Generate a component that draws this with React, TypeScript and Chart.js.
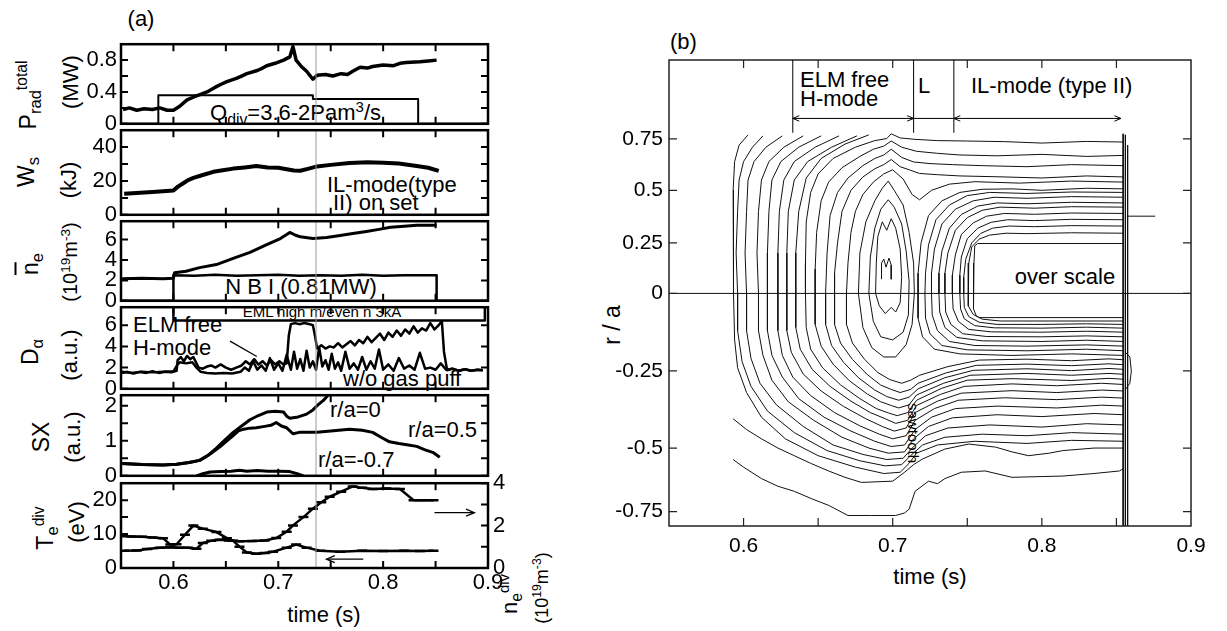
import { useEffect, useRef } from 'react';
import { Chart, registerables } from 'chart.js';

Chart.register(...registerables);

const FONT = "'Liberation Sans', Arial, Helvetica, sans-serif";
Chart.defaults.font.family = FONT;
Chart.defaults.color = '#000';

// ---------------- (a) shared time axis ----------------
const A_X_TICK_MARKS = [0.6, 0.65, 0.7, 0.75, 0.8, 0.85];
const X_LABEL_TICKS = [0.6, 0.7, 0.8, 0.9];
const X_LABEL_TEXT = ['0.6', '0.7', '0.8', '0.9'];
const MARKER_TIME = 0.736; // thin grey line through all traces

// Radiated power (MW) and divertor gas puff waveform
const PRAD_T = [0.552, 0.558, 0.565, 0.572, 0.58, 0.587, 0.594, 0.6, 0.606, 0.613, 0.62, 0.626, 0.632, 0.64, 0.646, 0.651, 0.66, 0.665, 0.67, 0.68, 0.685, 0.689, 0.697, 0.705, 0.711, 0.714, 0.717, 0.722, 0.727, 0.733, 0.737, 0.745, 0.752, 0.76, 0.766, 0.771, 0.778, 0.785, 0.79, 0.8, 0.81, 0.816, 0.822, 0.835, 0.843, 0.851];
const PRAD = [0.18, 0.2, 0.17, 0.19, 0.18, 0.2, 0.17, 0.17, 0.22, 0.3, 0.34, 0.37, 0.4, 0.46, 0.5, 0.53, 0.57, 0.6, 0.63, 0.67, 0.7, 0.73, 0.76, 0.8, 0.84, 0.97, 0.8, 0.72, 0.66, 0.56, 0.61, 0.62, 0.6, 0.63, 0.62, 0.66, 0.71, 0.7, 0.72, 0.74, 0.73, 0.76, 0.77, 0.78, 0.79, 0.8];
const QDIV_T = [0.55, 0.5856, 0.5856, 0.733, 0.733, 0.8334, 0.8334, 0.9];
const QDIV = [0, 0, 0.36, 0.36, 0.31, 0.31, 0, 0];
const PRAD_TICKS = [0, 0.2, 0.4, 0.6, 0.8];
const PRAD_TICK_TEXT = ['0', '', '0.4', '', '0.8'];

// Stored energy (kJ)
const WS_T = [0.553, 0.58, 0.6, 0.604, 0.609, 0.614, 0.619, 0.628, 0.638, 0.647, 0.657, 0.668, 0.679, 0.69, 0.7, 0.708, 0.715, 0.721, 0.729, 0.737, 0.75, 0.768, 0.785, 0.8, 0.815, 0.832, 0.843, 0.853];
const WS = [12.5, 13.5, 14.4, 16.5, 18.5, 20.5, 21.8, 23.5, 25.4, 26.3, 27.3, 28.0, 28.8, 28.0, 27.8, 26.9, 26.2, 26.0, 27.3, 28.6, 29.5, 30.6, 31.0, 30.8, 30.3, 28.8, 27.8, 26.0];
const WS_TICKS = [0, 10, 20, 30, 40];
const WS_TICK_TEXT = ['0', '', '20', '', '40'];

// Line averaged density (1e19 m^-3) and NBI waveform
const NE_T = [0.551, 0.57, 0.59, 0.6, 0.601, 0.612, 0.625, 0.641, 0.657, 0.673, 0.689, 0.702, 0.711, 0.716, 0.721, 0.733, 0.746, 0.759, 0.771, 0.784, 0.796, 0.807, 0.82, 0.832, 0.851];
const NE = [2.15, 2.2, 2.15, 2.2, 2.75, 2.9, 3.25, 3.55, 4.15, 4.75, 5.5, 6.1, 6.7, 6.45, 6.27, 6.1, 6.2, 6.4, 6.6, 6.8, 7.0, 7.2, 7.3, 7.4, 7.4];
const NBI_T = [0.55, 0.6, 0.6, 0.62, 0.64, 0.66, 0.68, 0.7, 0.72, 0.74, 0.76, 0.78, 0.8, 0.82, 0.84, 0.851, 0.851, 0.9];
const NBI = [0, 0, 2.5, 2.45, 2.55, 2.45, 2.5, 2.55, 2.45, 2.5, 2.45, 2.55, 2.45, 2.5, 2.5, 2.5, 0, 0];
const NE_TICKS = [0, 2, 4, 6];
const NE_TICK_TEXT = ['0', '2', '4', '6'];

// D-alpha (a.u.): with and without gas puff, EML coil window
const DA_PUFF_T = [0.551, 0.556, 0.562, 0.568, 0.574, 0.58, 0.586, 0.592, 0.598, 0.603, 0.604, 0.607, 0.61, 0.613, 0.616, 0.619, 0.622, 0.624, 0.628, 0.632, 0.636, 0.64, 0.645, 0.65, 0.655, 0.66, 0.665, 0.669, 0.673, 0.677, 0.681, 0.685, 0.689, 0.693, 0.697, 0.701, 0.705, 0.708, 0.71, 0.712, 0.716, 0.72, 0.725, 0.73, 0.733, 0.735, 0.737, 0.741, 0.745, 0.749, 0.753, 0.757, 0.761, 0.765, 0.769, 0.773, 0.777, 0.781, 0.785, 0.789, 0.793, 0.797, 0.801, 0.805, 0.809, 0.813, 0.817, 0.821, 0.825, 0.829, 0.833, 0.837, 0.841, 0.845, 0.849, 0.853, 0.856, 0.858, 0.861, 0.866, 0.872, 0.878, 0.884, 0.89, 0.895];
const DA_PUFF = [1.5, 1.6, 1.45, 1.6, 1.5, 1.65, 1.5, 1.6, 1.55, 1.7, 2.7, 3.0, 2.6, 3.1, 2.8, 3.0, 2.4, 2.0, 1.9, 2.1, 2.2, 2.0, 2.3, 2.0, 1.8, 2.0, 2.2, 2.6, 2.3, 2.8, 2.3, 2.6, 2.2, 2.7, 2.3, 2.6, 2.3, 2.4, 5.0, 6.1, 6.2, 6.1, 6.2, 6.1, 6.0, 5.0, 3.8, 4.1, 3.8, 4.0, 3.9, 4.3, 3.9, 4.2, 4.5, 4.1, 4.6, 4.3, 4.9, 4.4, 4.8, 5.2, 4.6, 5.3, 4.9, 5.5, 5.0, 5.6, 5.2, 5.9, 5.3, 5.7, 5.5, 6.2, 5.6, 6.0, 6.4, 3.5, 1.75, 1.9, 1.7, 1.85, 1.7, 1.8, 1.75];
const DA_NOPUFF_T = [0.551, 0.56, 0.57, 0.58, 0.59, 0.6, 0.604, 0.606, 0.612, 0.618, 0.622, 0.626, 0.632, 0.64, 0.648, 0.656, 0.664, 0.668, 0.672, 0.676, 0.68, 0.684, 0.688, 0.692, 0.696, 0.7, 0.704, 0.708, 0.712, 0.715, 0.718, 0.721, 0.724, 0.727, 0.73, 0.733, 0.736, 0.739, 0.742, 0.745, 0.748, 0.751, 0.754, 0.757, 0.76, 0.764, 0.768, 0.772, 0.776, 0.78, 0.784, 0.788, 0.792, 0.796, 0.8, 0.805, 0.81, 0.815, 0.82, 0.825, 0.83, 0.835, 0.84, 0.845, 0.85, 0.855, 0.86, 0.866, 0.872, 0.878, 0.884, 0.89, 0.895];
const DA_NOPUFF = [1.6, 1.5, 1.6, 1.55, 1.6, 1.65, 2.3, 2.5, 2.4, 2.5, 2.0, 1.6, 1.5, 1.45, 1.5, 1.45, 1.6, 2.0, 1.7, 2.6, 1.8, 2.2, 1.7, 2.9, 1.8, 2.4, 1.7, 3.2, 1.8, 3.5, 1.9, 2.8, 1.7, 3.6, 2.0, 2.6, 1.8, 3.9, 2.1, 2.7, 1.8, 3.3, 1.9, 2.5, 1.7, 3.5, 1.9, 2.4, 1.8, 3.0, 1.8, 2.6, 1.9, 3.7, 1.8, 2.3, 1.7, 2.9, 1.9, 2.2, 1.8, 3.4, 1.9, 2.0, 1.8, 2.4, 1.8, 1.9, 1.7, 1.85, 1.7, 1.8, 1.75];
const EML_T = [0.6, 0.6, 0.897, 0.897];
const EML = [8.5, 6.44, 6.44, 8.5];
const DA_TICKS = [0, 2, 4, 6];
const DA_TICK_TEXT = ['0', '2', '4', '6'];

// Soft X-ray chords (a.u.)
const SX0_T = [0.551, 0.57, 0.59, 0.603, 0.615, 0.625, 0.633, 0.641, 0.649, 0.657, 0.665, 0.673, 0.681, 0.689, 0.697, 0.705, 0.708, 0.711, 0.719, 0.727, 0.733, 0.737, 0.743, 0.749];
const SX0 = [0.35, 0.32, 0.31, 0.33, 0.38, 0.44, 0.58, 0.79, 1.02, 1.24, 1.42, 1.6, 1.72, 1.82, 1.84, 1.82, 1.7, 1.64, 1.68, 1.76, 1.88, 2.0, 2.15, 2.35];
const SX05_T = [0.551, 0.57, 0.59, 0.603, 0.615, 0.625, 0.635, 0.644, 0.651, 0.657, 0.662, 0.667, 0.673, 0.679, 0.687, 0.693, 0.698, 0.703, 0.708, 0.714, 0.72, 0.737, 0.75, 0.768, 0.78, 0.79, 0.798, 0.806, 0.815, 0.824, 0.832, 0.84, 0.848, 0.854];
const SX05 = [0.35, 0.32, 0.31, 0.33, 0.38, 0.44, 0.62, 0.82, 1.0, 1.15, 1.28, 1.33, 1.36, 1.37, 1.41, 1.44, 1.52, 1.42, 1.37, 1.2, 1.24, 1.24, 1.28, 1.33, 1.3, 1.24, 1.1, 0.97, 0.92, 0.88, 0.84, 0.74, 0.66, 0.53];
const SXM07_T = [0.622, 0.628, 0.635, 0.645, 0.655, 0.663, 0.67, 0.68, 0.69, 0.7, 0.711, 0.718, 0.724];
const SXM07 = [0.0, 0.06, 0.11, 0.12, 0.13, 0.16, 0.13, 0.15, 0.13, 0.13, 0.12, 0.06, 0.0];
const SX_TICKS = [0, 0.5, 1, 1.5, 2];
const SX_TICK_TEXT = ['0', '', '1', '', '2'];

// Divertor Te (eV, left) and divertor ne (1e19 m^-3, right)
const TE_T = [0.551, 0.56, 0.57, 0.58, 0.59, 0.597, 0.603, 0.611, 0.619, 0.628, 0.641, 0.651, 0.657, 0.663, 0.67, 0.679, 0.687, 0.695, 0.708, 0.717, 0.727, 0.74, 0.759, 0.78, 0.8, 0.82, 0.835, 0.848];
const TE = [9.4, 9.3, 9.2, 9.0, 8.8, 6.9, 7.0, 9.8, 12.5, 11.6, 10.6, 8.8, 8.0, 6.3, 4.6, 4.2, 4.4, 4.8, 6.0, 6.9, 6.0, 5.1, 4.8, 5.1, 5.0, 5.1, 5.0, 5.1];
const NEDIV_T = [0.553, 0.565, 0.575, 0.587, 0.597, 0.606, 0.614, 0.622, 0.628, 0.636, 0.644, 0.653, 0.663, 0.675, 0.687, 0.698, 0.708, 0.714, 0.724, 0.733, 0.741, 0.749, 0.76, 0.771, 0.78, 0.79, 0.803, 0.816, 0.829, 0.838, 0.848];
const NEDIV = [0.81, 0.82, 0.9, 0.96, 0.98, 0.96, 0.95, 0.91, 1.18, 1.28, 1.33, 1.3, 1.26, 1.27, 1.3, 1.41, 1.71, 2.01, 2.4, 2.8, 3.1, 3.36, 3.6, 3.85, 3.78, 3.73, 3.75, 3.73, 3.2, 3.2, 3.2];
const TE_TICKS = [0, 5, 10, 15, 20];
const TE_TICK_TEXT = ['0', '', '10', '', '20'];
const NEDIV_TICKS = [0, 1, 2, 3, 4];
const NEDIV_TICK_TEXT = ['0', '', '2', '', '4'];

// ---------------- (b) SX contour map ----------------
const B_X_TICK_MARKS = [0.6, 0.65, 0.7, 0.75, 0.8, 0.85];
const R_TICKS = [0.75, 0.5, 0.25, 0, -0.25, -0.5, -0.75];
const R_TICK_TEXT = ['0.75', '0.5', '0.25', '0', '-0.25', '-0.5', '-0.75'];
const R_CHORD = [0.755, 0.504, 0.247, 0, -0.379, -0.756, -1.067]; // chord-axis position of each r/a tick

// contour lines as [time (s), r/a]
const CONTOUR_L0 = [[0.603, 0.77], [0.597, 0.72], [0.594, 0.64], [0.593, 0.5], [0.593, 0.25], [0.5935, 0], [0.594, -0.15], [0.596, -0.24], [0.602, -0.32], [0.612, -0.4], [0.628, -0.47], [0.65, -0.53], [0.675, -0.575], [0.694, -0.6], [0.705, -0.595], [0.711, -0.56], [0.716, -0.52], [0.73, -0.49], [0.755, -0.478], [0.79, -0.485], [0.82, -0.475], [0.855, -0.478]];
const CONTOUR_L1 = [[0.613, 0.765], [0.606, 0.71], [0.6, 0.64], [0.597, 0.55], [0.596, 0.4], [0.595, 0.2], [0.596, 0], [0.596, -0.12], [0.599, -0.22], [0.605, -0.3], [0.616, -0.38], [0.634, -0.45], [0.656, -0.51], [0.678, -0.55], [0.695, -0.57], [0.706, -0.565], [0.712, -0.53], [0.72, -0.49], [0.735, -0.465], [0.76, -0.455], [0.79, -0.46], [0.82, -0.45], [0.855, -0.455]];
const CONTOUR_L2 = [[0.626, 0.765], [0.615, 0.71], [0.607, 0.64], [0.603, 0.55], [0.602, 0.4], [0.601, 0.2], [0.602, 0], [0.602, -0.12], [0.605, -0.21], [0.611, -0.29], [0.622, -0.36], [0.64, -0.43], [0.66, -0.49], [0.68, -0.525], [0.696, -0.545], [0.707, -0.54], [0.713, -0.5], [0.722, -0.46], [0.737, -0.435], [0.765, -0.425], [0.8, -0.432], [0.83, -0.421], [0.855, -0.425]];
const CONTOUR_L3 = [[0.64, 0.765], [0.627, 0.71], [0.617, 0.64], [0.612, 0.55], [0.61, 0.4], [0.609, 0.2], [0.61, 0], [0.61, -0.12], [0.613, -0.2], [0.619, -0.28], [0.63, -0.35], [0.647, -0.41], [0.666, -0.465], [0.684, -0.5], [0.697, -0.52], [0.708, -0.515], [0.714, -0.47], [0.724, -0.43], [0.74, -0.402], [0.77, -0.392], [0.8, -0.398], [0.835, -0.388], [0.855, -0.392]];
const CONTOUR_L4 = [[0.652, 0.765], [0.637, 0.71], [0.625, 0.64], [0.619, 0.55], [0.617, 0.4], [0.616, 0.2], [0.616, 0], [0.616, -0.12], [0.619, -0.2], [0.626, -0.27], [0.637, -0.34], [0.654, -0.4], [0.672, -0.445], [0.688, -0.478], [0.699, -0.495], [0.708, -0.49], [0.715, -0.44], [0.726, -0.4], [0.742, -0.372], [0.77, -0.364], [0.81, -0.37], [0.84, -0.361], [0.855, -0.364]];
const CONTOUR_L5 = [[0.664, 0.765], [0.648, 0.71], [0.634, 0.64], [0.627, 0.55], [0.624, 0.4], [0.623, 0.2], [0.623, 0], [0.623, -0.12], [0.626, -0.2], [0.633, -0.27], [0.645, -0.33], [0.661, -0.385], [0.678, -0.428], [0.691, -0.455], [0.7, -0.47], [0.709, -0.46], [0.715, -0.41], [0.728, -0.372], [0.744, -0.345], [0.775, -0.337], [0.81, -0.343], [0.84, -0.335], [0.855, -0.338]];
const CONTOUR_L6 = [[0.676, 0.765], [0.659, 0.71], [0.643, 0.64], [0.634, 0.55], [0.63, 0.4], [0.629, 0.2], [0.629, 0], [0.629, -0.12], [0.632, -0.19], [0.64, -0.26], [0.652, -0.315], [0.667, -0.365], [0.682, -0.405], [0.693, -0.43], [0.701, -0.445], [0.709, -0.435], [0.715, -0.385], [0.73, -0.348], [0.746, -0.322], [0.78, -0.314], [0.81, -0.32], [0.84, -0.312], [0.855, -0.315]];
const CONTOUR_L7 = [[0.684, 0.77], [0.668, 0.725], [0.652, 0.655], [0.642, 0.56], [0.637, 0.4], [0.635, 0.2], [0.635, 0], [0.635, -0.11], [0.638, -0.18], [0.646, -0.245], [0.658, -0.3], [0.672, -0.348], [0.685, -0.385], [0.695, -0.405], [0.702, -0.42], [0.71, -0.41], [0.716, -0.362], [0.732, -0.326], [0.748, -0.3], [0.78, -0.292], [0.81, -0.298], [0.84, -0.29], [0.855, -0.294]];
const CONTOUR_L8 = [[0.855, 0.735], [0.83, 0.738], [0.8, 0.73], [0.775, 0.737], [0.75, 0.74], [0.73, 0.742], [0.715, 0.748], [0.705, 0.755], [0.699, 0.775], [0.696, 0.752], [0.688, 0.742], [0.675, 0.71], [0.66, 0.655], [0.65, 0.58], [0.645, 0.49], [0.642, 0.35], [0.6415, 0.15], [0.6415, 0], [0.642, -0.11], [0.645, -0.18], [0.653, -0.24], [0.665, -0.295], [0.678, -0.34], [0.689, -0.372], [0.697, -0.386], [0.703, -0.395], [0.71, -0.385], [0.716, -0.345], [0.733, -0.306], [0.75, -0.28], [0.78, -0.275], [0.82, -0.281], [0.845, -0.274], [0.855, -0.277]];
const CONTOUR_L9 = [[0.855, 0.67], [0.83, 0.665], [0.8, 0.675], [0.77, 0.668], [0.745, 0.672], [0.73, 0.68], [0.716, 0.69], [0.706, 0.71], [0.699, 0.74], [0.694, 0.715], [0.687, 0.7], [0.678, 0.665], [0.666, 0.61], [0.657, 0.54], [0.652, 0.45], [0.649, 0.3], [0.648, 0.12], [0.648, 0], [0.648, -0.1], [0.652, -0.17], [0.66, -0.228], [0.671, -0.282], [0.683, -0.325], [0.692, -0.35], [0.699, -0.362], [0.704, -0.37], [0.711, -0.36], [0.716, -0.328], [0.734, -0.29], [0.752, -0.264], [0.79, -0.258], [0.82, -0.264], [0.845, -0.258], [0.855, -0.261]];
const CONTOUR_L10 = [[0.855, 0.62], [0.82, 0.625], [0.79, 0.615], [0.76, 0.62], [0.74, 0.625], [0.725, 0.63], [0.714, 0.638], [0.706, 0.66], [0.699, 0.7], [0.694, 0.672], [0.688, 0.655], [0.68, 0.62], [0.67, 0.56], [0.663, 0.49], [0.658, 0.38], [0.656, 0.2], [0.655, 0], [0.655, -0.1], [0.659, -0.168], [0.667, -0.222], [0.677, -0.272], [0.688, -0.312], [0.696, -0.333], [0.704, -0.345], [0.711, -0.335], [0.717, -0.308], [0.735, -0.272], [0.754, -0.248], [0.79, -0.243], [0.82, -0.249], [0.845, -0.242], [0.855, -0.245]];
const CONTOUR_L11 = [[0.855, 0.565], [0.83, 0.57], [0.8, 0.56], [0.77, 0.566], [0.745, 0.57], [0.73, 0.576], [0.718, 0.582], [0.711, 0.6], [0.705, 0.615], [0.699, 0.65], [0.694, 0.625], [0.688, 0.605], [0.68, 0.565], [0.672, 0.5], [0.666, 0.4], [0.663, 0.25], [0.661, 0.1], [0.661, 0], [0.661, -0.1], [0.665, -0.16], [0.673, -0.213], [0.683, -0.262], [0.692, -0.296], [0.699, -0.31], [0.705, -0.32], [0.712, -0.31], [0.717, -0.29], [0.736, -0.256], [0.756, -0.232], [0.79, -0.228], [0.82, -0.233], [0.845, -0.227], [0.855, -0.23]];
const CONTOUR_L12 = [[0.855, 0.54], [0.82, 0.545], [0.785, 0.535], [0.755, 0.542], [0.738, 0.53], [0.726, 0.5], [0.718, 0.455], [0.713, 0.48], [0.707, 0.555], [0.7, 0.6], [0.694, 0.58], [0.687, 0.54], [0.68, 0.48], [0.675, 0.4], [0.672, 0.3], [0.67, 0.15], [0.669, 0], [0.669, -0.1], [0.673, -0.16], [0.681, -0.212], [0.69, -0.255], [0.698, -0.278], [0.706, -0.29], [0.712, -0.28], [0.718, -0.264], [0.737, -0.236], [0.758, -0.215], [0.79, -0.212], [0.82, -0.217], [0.845, -0.211], [0.855, -0.214]];
const CONTOUR_B1 = [[0.593, -0.545], [0.6, -0.575], [0.612, -0.62], [0.623, -0.65], [0.634, -0.67], [0.646, -0.7], [0.657, -0.725], [0.67, -0.765], [0.685, -0.765], [0.702, -0.765], [0.708, -0.755], [0.711, -0.74], [0.715, -0.67], [0.724, -0.63], [0.73, -0.64], [0.735, -0.62], [0.746, -0.595], [0.762, -0.59], [0.78, -0.615], [0.8, -0.612], [0.814, -0.61], [0.835, -0.6], [0.852, -0.59], [0.855, -0.58]];
const CONTOUR_B2 = [[0.593, -0.405], [0.602, -0.44], [0.612, -0.47], [0.623, -0.5], [0.634, -0.53], [0.645, -0.56], [0.657, -0.59], [0.668, -0.615], [0.679, -0.635], [0.7, -0.63], [0.708, -0.595], [0.714, -0.565], [0.72, -0.543], [0.735, -0.504], [0.751, -0.487], [0.769, -0.497], [0.78, -0.515], [0.791, -0.53], [0.805, -0.52], [0.814, -0.51], [0.835, -0.5], [0.855, -0.5]];
const CONTOUR_O1 = [[0.677, 0], [0.678, 0.2], [0.682, 0.35], [0.688, 0.45], [0.693, 0.51], [0.697, 0.545], [0.701, 0.5], [0.707, 0.43], [0.711, 0.3], [0.714, 0.15], [0.7145, 0], [0.713, -0.1], [0.709, -0.165], [0.702, -0.205], [0.694, -0.205], [0.686, -0.175], [0.68, -0.11], [0.677, 0]];
const CONTOUR_O2 = [[0.684, 0], [0.685, 0.18], [0.688, 0.32], [0.692, 0.41], [0.697, 0.455], [0.701, 0.42], [0.706, 0.34], [0.709, 0.21], [0.711, 0.06], [0.7105, -0.07], [0.707, -0.125], [0.7, -0.15], [0.692, -0.14], [0.687, -0.09], [0.684, 0]];
const CONTOUR_O3 = [[0.6885, 0], [0.689, 0.15], [0.69, 0.28], [0.693, 0.35], [0.696, 0.31], [0.699, 0.365], [0.702, 0.32], [0.705, 0.22], [0.706, 0.08], [0.705, -0.03], [0.702, -0.06], [0.699, -0.045], [0.695, -0.065], [0.691, -0.04], [0.6885, 0]];
const CONTOUR_O4 = [[0.6925, 0.07], [0.6925, 0.15], [0.694, 0.17], [0.6955, 0.13], [0.6975, 0.175], [0.699, 0.14], [0.699, 0.07]];
const CONTOUR_IL1 = [[0.855, 0.507], [0.83, 0.51], [0.8, 0.5], [0.78, 0.507], [0.76, 0.505], [0.745, 0.49], [0.733, 0.45], [0.724, 0.38], [0.719, 0.25], [0.717, 0.1], [0.717, 0], [0.717, -0.08], [0.72, -0.14], [0.728, -0.18], [0.745, -0.195], [0.78, -0.2], [0.82, -0.195], [0.855, -0.2]];
const CONTOUR_IL2 = [[0.855, 0.49], [0.82, 0.492], [0.79, 0.485], [0.765, 0.49], [0.75, 0.475], [0.738, 0.43], [0.729, 0.36], [0.724, 0.24], [0.722, 0.1], [0.7216, 0], [0.722, -0.08], [0.725, -0.13], [0.733, -0.168], [0.75, -0.182], [0.79, -0.185], [0.83, -0.18], [0.855, -0.185]];
const CONTOUR_IL3 = [[0.855, 0.467], [0.82, 0.47], [0.79, 0.462], [0.768, 0.467], [0.754, 0.45], [0.742, 0.41], [0.733, 0.34], [0.728, 0.22], [0.726, 0.1], [0.726, 0], [0.7265, -0.07], [0.73, -0.12], [0.738, -0.155], [0.755, -0.168], [0.79, -0.17], [0.83, -0.166], [0.855, -0.17]];
const CONTOUR_IL4 = [[0.855, 0.44], [0.82, 0.443], [0.79, 0.436], [0.77, 0.44], [0.757, 0.425], [0.746, 0.385], [0.738, 0.32], [0.733, 0.21], [0.731, 0.1], [0.731, 0], [0.7315, -0.06], [0.735, -0.11], [0.743, -0.142], [0.76, -0.153], [0.8, -0.155], [0.83, -0.151], [0.855, -0.155]];
const CONTOUR_IL5 = [[0.855, 0.42], [0.82, 0.422], [0.795, 0.415], [0.772, 0.42], [0.76, 0.405], [0.75, 0.37], [0.742, 0.31], [0.737, 0.2], [0.735, 0.1], [0.735, 0], [0.7355, -0.06], [0.739, -0.1], [0.747, -0.13], [0.763, -0.139], [0.8, -0.14], [0.83, -0.137], [0.855, -0.14]];
const CONTOUR_IL6 = [[0.855, 0.39], [0.82, 0.392], [0.795, 0.386], [0.775, 0.39], [0.763, 0.377], [0.754, 0.345], [0.746, 0.29], [0.742, 0.19], [0.74, 0.09], [0.74, 0], [0.7405, -0.05], [0.744, -0.09], [0.751, -0.116], [0.766, -0.124], [0.8, -0.125], [0.83, -0.122], [0.855, -0.125]];
const CONTOUR_IL7 = [[0.855, 0.36], [0.82, 0.362], [0.795, 0.356], [0.777, 0.36], [0.766, 0.348], [0.757, 0.32], [0.75, 0.27], [0.746, 0.18], [0.745, 0.09], [0.745, 0], [0.7455, -0.05], [0.748, -0.082], [0.755, -0.104], [0.768, -0.111], [0.8, -0.112], [0.83, -0.109], [0.855, -0.112]];
const CONTOUR_IL8 = [[0.855, 0.33], [0.82, 0.332], [0.795, 0.327], [0.778, 0.33], [0.767, 0.32], [0.759, 0.295], [0.753, 0.25], [0.749, 0.17], [0.7476, 0.08], [0.7476, 0], [0.748, -0.045], [0.751, -0.075], [0.758, -0.093], [0.77, -0.1], [0.8, -0.1], [0.83, -0.098], [0.855, -0.1]];
const CONTOUR_IL9 = [[0.855, 0.296], [0.82, 0.298], [0.79, 0.294], [0.776, 0.296], [0.765, 0.287], [0.758, 0.268], [0.753, 0.23], [0.751, 0.15], [0.7505, 0.07], [0.7505, 0], [0.751, -0.04], [0.754, -0.068], [0.76, -0.083], [0.772, -0.089], [0.855, -0.089]];
const OVER_SCALE_EDGE = [[0.855, 0.247], [0.757, 0.247], [0.755, 0.235], [0.7545, 0.15], [0.754, 0.06], [0.754, 0], [0.7545, -0.05], [0.756, -0.072], [0.758, -0.078], [0.855, -0.078]];
const END_LINE_A = [[0.8545, 0.775], [0.8545, -0.9]];
const END_LINE_B = [[0.856, 0.77], [0.856, -0.9]];
const END_LINE_C = [[0.8575, 0.72], [0.8575, -0.9]];
const END_TAIL = [[0.857, 0.377], [0.876, 0.377]];
const END_LOOP = [[0.856, -0.19], [0.859, -0.205], [0.86, -0.25], [0.859, -0.29], [0.856, -0.31]];
const ZERO_LINE = [[0.55, 0], [0.9, 0]];

const CONTOURS = [
  CONTOUR_L0, CONTOUR_L1, CONTOUR_L2, CONTOUR_L3, CONTOUR_L4, CONTOUR_L5, CONTOUR_L6,
  CONTOUR_L7, CONTOUR_L8, CONTOUR_L9, CONTOUR_L10, CONTOUR_L11, CONTOUR_L12,
  CONTOUR_B1, CONTOUR_B2, CONTOUR_O1, CONTOUR_O2, CONTOUR_O3, CONTOUR_O4,
  CONTOUR_IL1, CONTOUR_IL2, CONTOUR_IL3, CONTOUR_IL4, CONTOUR_IL5, CONTOUR_IL6,
  CONTOUR_IL7, CONTOUR_IL8, CONTOUR_IL9, OVER_SCALE_EDGE,
  END_LINE_A, END_LINE_B, END_LINE_C, END_TAIL, END_LOOP, ZERO_LINE,
];

// Phase boundaries and arrow level for the annotations above the map
const PHASE_TIMES = [0.633, 0.714, 0.741];
const PHASE_END = 0.853;
const PHASE_ARROW_R = 0.85;
const PHASE_LINE_FROM_R = 0.78;

// ---------------- helpers ----------------
function rToChord(r: number): number {
  const n = R_TICKS.length;
  if (r >= R_TICKS[0]) {
    return R_CHORD[0] + (r - R_TICKS[0]) * (R_CHORD[0] - R_CHORD[1]) / (R_TICKS[0] - R_TICKS[1]);
  }
  if (r <= R_TICKS[n - 1]) {
    return R_CHORD[n - 1] + (r - R_TICKS[n - 1]) * (R_CHORD[n - 2] - R_CHORD[n - 1]) / (R_TICKS[n - 2] - R_TICKS[n - 1]);
  }
  for (let i = 0; i < n - 1; i++) {
    if (r <= R_TICKS[i] && r >= R_TICKS[i + 1]) {
      const f = (r - R_TICKS[i + 1]) / (R_TICKS[i] - R_TICKS[i + 1]);
      return R_CHORD[i + 1] + f * (R_CHORD[i] - R_CHORD[i + 1]);
    }
  }
  return 0;
}

const xy = (t: number[], v: number[]) => t.map((x, i) => ({ x, y: v[i] }));

function arrowHead(ctx: CanvasRenderingContext2D, fx: number, fy: number, tx: number, ty: number, size: number) {
  const a = Math.atan2(ty - fy, tx - fx);
  ctx.beginPath();
  ctx.moveTo(tx - size * Math.cos(a - 0.4), ty - size * Math.sin(a - 0.4));
  ctx.lineTo(tx, ty);
  ctx.lineTo(tx - size * Math.cos(a + 0.4), ty - size * Math.sin(a + 0.4));
  ctx.stroke();
}

function framePlugin(spec: any) {
  return {
    id: 'frame',
    afterDatasetsDraw(chart: any) {
      const { ctx, chartArea: a, scales } = chart;
      ctx.save();
      ctx.strokeStyle = spec.color;
      ctx.lineWidth = spec.tickWidth;
      ctx.beginPath();
      for (const v of spec.xTicks) {
        const p = scales.x.getPixelForValue(v);
        ctx.moveTo(p, a.bottom); ctx.lineTo(p, a.bottom - spec.len);
        ctx.moveTo(p, a.top); ctx.lineTo(p, a.top + spec.len);
      }
      for (const v of spec.leftTicks) {
        const p = scales[spec.leftAxis].getPixelForValue(v);
        ctx.moveTo(a.left, p); ctx.lineTo(a.left + spec.len, p);
      }
      for (const v of spec.rightTicks) {
        const p = scales[spec.rightAxis].getPixelForValue(v);
        ctx.moveTo(a.right, p); ctx.lineTo(a.right - spec.len, p);
      }
      ctx.stroke();
      ctx.lineWidth = spec.frameWidth;
      ctx.strokeRect(a.left, a.top, a.right - a.left, a.bottom - a.top);
      ctx.restore();
    },
  };
}

function marksPlugin(marks: any[]) {
  return {
    id: 'marks',
    afterDatasetsDraw(chart: any) {
      const { ctx, chartArea: a, scales } = chart;
      ctx.save();
      ctx.beginPath();
      ctx.rect(a.left, a.top, a.right - a.left, a.bottom - a.top);
      ctx.clip();
      ctx.strokeStyle = '#000';
      for (const m of marks) {
        const ys = scales[m.axis || 'y'];
        const x1 = scales.x.getPixelForValue(m.x1);
        const x2 = scales.x.getPixelForValue(m.x2);
        const y1 = ys.getPixelForValue(m.y1);
        const y2 = ys.getPixelForValue(m.y2);
        ctx.lineWidth = m.width || 1;
        ctx.beginPath(); ctx.moveTo(x1, y1); ctx.lineTo(x2, y2); ctx.stroke();
        if (m.head === 'end' || m.head === 'both') arrowHead(ctx, x1, y1, x2, y2, m.size || 8);
        if (m.head === 'start' || m.head === 'both') arrowHead(ctx, x2, y2, x1, y1, m.size || 8);
      }
      ctx.restore();
    },
  };
}

// ---------------- (a) panel definitions ----------------
const A_LEFT = 121;
const A_RIGHT = 488;
const A_CANVAS_W = 560;
const A_PAD = 14;
const A_XAXIS_H = 44;

const PANELS: any[] = [
  { top: 41, bottom: 127, min: 0, max: 1.0, ticks: PRAD_TICKS, text: PRAD_TICK_TEXT,
    series: [{ t: QDIV_T, v: QDIV, width: 2 }, { t: PRAD_T, v: PRAD, width: 3.5 }] },
  { top: 127, bottom: 218, min: 0, max: 50, ticks: WS_TICKS, text: WS_TICK_TEXT,
    series: [{ t: WS_T, v: WS, width: 4 }] },
  { top: 218, bottom: 304, min: 0, max: 7.8, ticks: NE_TICKS, text: NE_TICK_TEXT,
    series: [{ t: NBI_T, v: NBI, width: 2.5 }, { t: NE_T, v: NE, width: 3 }] },
  { top: 304, bottom: 392, min: 0, max: 7.7, ticks: DA_TICKS, text: DA_TICK_TEXT,
    series: [{ t: EML_T, v: EML, width: 2.5 }, { t: DA_NOPUFF_T, v: DA_NOPUFF, width: 2.5 }, { t: DA_PUFF_T, v: DA_PUFF, width: 2.5 }],
    marks: [{ x1: 0.654, y1: 4.5, x2: 0.6795, y2: 3.05, width: 1.2 }] },
  { top: 392, bottom: 479, min: 0, max: 2.3, ticks: SX_TICKS, text: SX_TICK_TEXT,
    series: [{ t: SXM07_T, v: SXM07, width: 3 }, { t: SX05_T, v: SX05, width: 3 }, { t: SX0_T, v: SX0, width: 3 }] },
  { top: 479, bottom: 568, min: 0, max: 25, ticks: TE_TICKS, text: TE_TICK_TEXT,
    y2: { min: 0, max: 4, ticks: NEDIV_TICKS, text: NEDIV_TICK_TEXT },
    series: [{ t: TE_T, v: TE, width: 2.5, marker: true }, { t: NEDIV_T, v: NEDIV, width: 2.5, marker: true, axis: 'y2' }],
    marks: [
      { x1: 0.849, y1: 16.3, x2: 0.887, y2: 16.3, head: 'end', width: 1.3, size: 9 },
      { x1: 0.781, y1: 2.6, x2: 0.746, y2: 2.6, head: 'end', width: 1.3, size: 9 },
    ] },
];

function tickAxis(min: number, max: number, ticks: number[], text: string[], position: string, width: number, size: number, pad: number) {
  return {
    type: 'linear',
    position,
    min,
    max,
    afterBuildTicks: (s: any) => { s.ticks = ticks.map((value) => ({ value })); },
    afterFit: (s: any) => { s.width = width; },
    ticks: {
      autoSkip: false,
      padding: pad,
      font: { family: FONT, size },
      color: '#000',
      callback: (_v: any, i: number) => text[i],
    },
    grid: { display: false, drawTicks: false },
    border: { display: false },
  };
}

function panelConfig(p: any, isLast: boolean) {
  const datasets: any[] = [
    { data: xy([MARKER_TIME, MARKER_TIME], [p.min - 10, p.max + 10]), borderColor: '#9a9a9a', borderWidth: 1, pointRadius: 0 },
  ];
  for (const s of p.series) {
    datasets.push({
      data: xy(s.t, s.v),
      borderColor: '#000',
      borderWidth: s.width,
      pointRadius: s.marker ? 5 : 0,
      pointStyle: 'line',
      pointBorderColor: '#000',
      pointBorderWidth: 2.5,
      yAxisID: s.axis || 'y',
      borderJoinStyle: 'round',
      tension: 0,
    });
  }
  const xAxis: any = {
    type: 'linear',
    min: 0.55,
    max: 0.9,
    display: isLast,
    afterBuildTicks: (s: any) => { s.ticks = X_LABEL_TICKS.map((value) => ({ value })); },
    ticks: {
      autoSkip: false,
      maxRotation: 0,
      padding: 2,
      font: { family: FONT, size: 22 },
      color: '#000',
      callback: (_v: any, i: number) => X_LABEL_TEXT[i],
    },
    grid: { display: false, drawTicks: false },
    border: { display: false },
  };
  if (isLast) xAxis.afterFit = (s: any) => { s.height = A_XAXIS_H; };
  const scales: any = {
    x: xAxis,
    y: tickAxis(p.min, p.max, p.ticks, p.text, 'left', A_LEFT, 22, 4),
  };
  if (p.y2) scales.y2 = tickAxis(p.y2.min, p.y2.max, p.y2.ticks, p.y2.text, 'right', A_CANVAS_W - A_RIGHT, 22, 5);
  return {
    type: 'line',
    data: { datasets },
    options: {
      responsive: false,
      animation: false,
      events: [],
      layout: { padding: { top: A_PAD, bottom: isLast ? 0 : A_PAD, left: 0, right: p.y2 ? 0 : A_CANVAS_W - A_RIGHT } },
      plugins: { legend: { display: false }, tooltip: { enabled: false } },
      scales,
    },
    plugins: [
      framePlugin({
        color: '#000', tickWidth: 2, frameWidth: 2.5, len: 7,
        xTicks: A_X_TICK_MARKS,
        leftAxis: 'y', leftTicks: p.ticks,
        rightAxis: p.y2 ? 'y2' : 'y', rightTicks: p.y2 ? p.y2.ticks : p.ticks,
      }),
      marksPlugin(p.marks || []),
    ],
  };
}

// ---------------- (b) contour configuration ----------------
const B_CANVAS = { left: 560, top: 0, width: 667, height: 631 };
const B_AREA = { left: 669, right: 1191, top: 60, bottom: 526 };
const B_XAXIS_H = 60;

function contourConfig() {
  const datasets = CONTOURS.map((c) => ({
    data: c.map(([t, r]) => ({ x: t, y: rToChord(r) })),
    borderColor: '#111',
    borderWidth: 1,
    pointRadius: 0,
    tension: 0,
  }));
  const arrowY = rToChord(PHASE_ARROW_R);
  const marks: any[] = PHASE_TIMES.map((t) => ({ x1: t, y1: rToChord(PHASE_LINE_FROM_R), x2: t, y2: rToChord(1.3), width: 1 }));
  marks.push({ x1: PHASE_TIMES[0], y1: arrowY, x2: PHASE_TIMES[1], y2: arrowY, head: 'both', width: 1, size: 7 });
  marks.push({ x1: PHASE_TIMES[1], y1: arrowY, x2: PHASE_TIMES[2], y2: arrowY, width: 1 });
  marks.push({ x1: PHASE_TIMES[2], y1: arrowY, x2: PHASE_END, y2: arrowY, head: 'both', width: 1, size: 7 });
  return {
    type: 'line',
    data: { datasets },
    options: {
      responsive: false,
      animation: false,
      events: [],
      layout: {
        padding: {
          top: B_AREA.top - B_CANVAS.top,
          bottom: B_CANVAS.top + B_CANVAS.height - B_AREA.bottom - B_XAXIS_H,
          left: 0,
          right: B_CANVAS.left + B_CANVAS.width - B_AREA.right,
        },
      },
      plugins: { legend: { display: false }, tooltip: { enabled: false } },
      scales: {
        x: {
          type: 'linear',
          min: 0.55,
          max: 0.9,
          afterBuildTicks: (s: any) => { s.ticks = X_LABEL_TICKS.map((value) => ({ value })); },
          afterFit: (s: any) => { s.height = B_XAXIS_H; },
          ticks: {
            autoSkip: false,
            maxRotation: 0,
            padding: 8,
            font: { family: FONT, size: 21 },
            color: '#000',
            callback: (_v: any, i: number) => X_LABEL_TEXT[i],
          },
          grid: { display: false, drawTicks: false },
          border: { display: false },
        },
        y: {
          type: 'linear',
          min: -1.137,
          max: 1.141,
          afterBuildTicks: (s: any) => { s.ticks = R_CHORD.map((value) => ({ value })); },
          afterFit: (s: any) => { s.width = B_AREA.left - B_CANVAS.left; },
          ticks: {
            autoSkip: false,
            padding: 6,
            font: { family: FONT, size: 21 },
            color: '#000',
            callback: (_v: any, i: number) => R_TICK_TEXT[i],
          },
          grid: { display: false, drawTicks: false },
          border: { display: false },
        },
      },
    },
    plugins: [
      framePlugin({
        color: '#222', tickWidth: 1.2, frameWidth: 1.5, len: 8,
        xTicks: B_X_TICK_MARKS,
        leftAxis: 'y', leftTicks: R_CHORD,
        rightAxis: 'y', rightTicks: R_CHORD,
      }),
      marksPlugin(marks),
    ],
  };
}

// ---------------- components ----------------
function ChartCanvas({ left, top, width, height, build }: any) {
  const ref = useRef<HTMLCanvasElement>(null);
  useEffect(() => {
    const chart = new Chart(ref.current as HTMLCanvasElement, build());
    return () => chart.destroy();
  }, []);
  return (
    <canvas
      ref={ref}
      width={width}
      height={height}
      style={{ position: 'absolute', left, top, width, height, zIndex: 1 }}
    />
  );
}

const Sub = ({ children }: any) => (
  <span style={{ fontSize: '0.72em', position: 'relative', top: '0.3em' }}>{children}</span>
);
const Sup = ({ children }: any) => (
  <span style={{ fontSize: '0.68em', position: 'relative', top: '-0.55em' }}>{children}</span>
);

function Txt({ x, y, size = 22, rot = 0, align = 'center', children }: any) {
  const tx = align === 'left' ? '0' : '-50%';
  return (
    <div
      style={{
        position: 'absolute',
        left: x,
        top: y,
        fontSize: size,
        lineHeight: 1,
        whiteSpace: 'pre',
        transform: `translate(${tx}, -50%) rotate(${rot}deg)`,
        transformOrigin: align === 'left' ? 'left center' : 'center',
        zIndex: 0,
      }}
    >
      {children}
    </div>
  );
}

export default function App() {
  return (
    <div
      style={{
        position: 'absolute', left: 0, top: 0, width: 1227, height: 631,
        background: '#fff', color: '#000', fontFamily: FONT, overflow: 'hidden',
      }}
    >
      {/* (a) texts */}
      <Txt x={141} y={19}>(a)</Txt>
      <Txt x={28} y={95} rot={-90} size={23}>P<Sub>rad</Sub><Sup>total</Sup></Txt>
      <Txt x={71} y={82} rot={-90}>(MW)</Txt>
      <Txt x={26} y={172} rot={-90} size={23}>W<Sub>s</Sub></Txt>
      <Txt x={69} y={180} rot={-90}>(kJ)</Txt>
      <Txt x={30} y={264} rot={-90} size={23}><span style={{ textDecoration: 'overline' }}>n</span><Sub>e</Sub></Txt>
      <Txt x={70} y={262} rot={-90} size={20}>(10<Sup>19</Sup>m<Sup>-3</Sup>)</Txt>
      <Txt x={30} y={352} rot={-90} size={23}>D<Sub>α</Sub></Txt>
      <Txt x={70} y={355} rot={-90}>(a.u.)</Txt>
      <Txt x={41} y={437} rot={-90} size={23}>SX</Txt>
      <Txt x={73} y={437} rot={-90}>(a.u.)</Txt>
      <Txt x={45} y={528} rot={-90} size={23}>T<Sub>e</Sub><Sup>div</Sup></Txt>
      <Txt x={77} y={522} rot={-90}>(eV)</Txt>
      <Txt x={510} y={594} rot={-90} size={22}>n<Sub>e</Sub><Sup>div</Sup></Txt>
      <Txt x={542} y={588} rot={-90} size={18}>(10<Sup>19</Sup>m<Sup>-3</Sup>)</Txt>
      <Txt x={210} y={113} align="left">Q<Sub>div</Sub>=3.6-2Pam<Sup>3</Sup>/s</Txt>
      <Txt x={327} y={185} align="left">IL-mode(type</Txt>
      <Txt x={333} y={203} align="left">II) on set</Txt>
      <Txt x={301} y={287}>N B I (0.81MW)</Txt>
      <Txt x={322} y={311} size={15}>EML high m/even n 3kA</Txt>
      <Txt x={133} y={325} align="left">ELM free</Txt>
      <Txt x={133} y={348} align="left">H-mode</Txt>
      <Txt x={343} y={379} align="left">w/o gas puff</Txt>
      <Txt x={330} y={410} align="left">r/a=0</Txt>
      <Txt x={408} y={430} align="left">r/a=0.5</Txt>
      <Txt x={318} y={460} align="left">r/a=-0.7</Txt>
      <Txt x={324} y={615}>time (s)</Txt>

      {/* (b) texts */}
      <Txt x={670} y={42} align="left">(b)</Txt>
      <Txt x={800} y={80} align="left">ELM free</Txt>
      <Txt x={800} y={99} align="left">H-mode</Txt>
      <Txt x={918} y={86} align="left">L</Txt>
      <Txt x={971} y={86} align="left">IL-mode (type II)</Txt>
      <Txt x={1065} y={277}>over scale</Txt>
      <Txt x={913} y={433} rot={90} size={15}>sawtooth</Txt>
      <Txt x={612} y={325} rot={-90} size={23}>r / a</Txt>
      <Txt x={930} y={577}>time (s)</Txt>

      {PANELS.map((p, i) => {
        const isLast = i === PANELS.length - 1;
        const h = p.bottom - p.top + A_PAD + (isLast ? A_XAXIS_H : A_PAD);
        return (
          <ChartCanvas
            key={i}
            left={0}
            top={p.top - A_PAD}
            width={A_CANVAS_W}
            height={h}
            build={() => panelConfig(p, isLast)}
          />
        );
      })}
      <ChartCanvas
        left={B_CANVAS.left}
        top={B_CANVAS.top}
        width={B_CANVAS.width}
        height={B_CANVAS.height}
        build={contourConfig}
      />
    </div>
  );
}
